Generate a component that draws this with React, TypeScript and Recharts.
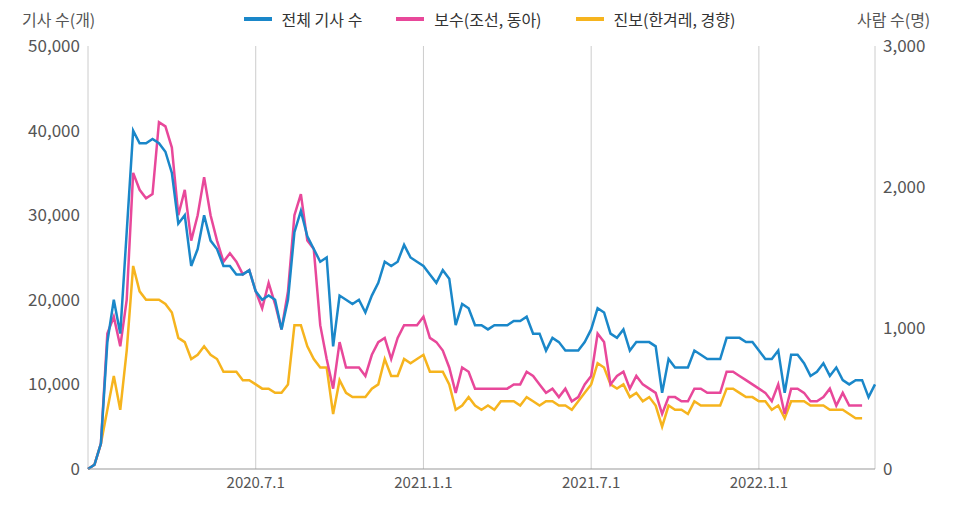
import React from 'react';
import { LineChart, Line, XAxis, YAxis, CartesianGrid } from 'recharts';

// weekly points, starting first week of Jan 2020
const totalArticles = [
  0, 500, 3000, 15000, 20000, 16000, 28000, 40000, 38500, 38500, 39000, 38500, 37500, 35000, 29000, 30000,
  24000, 26000, 30000, 27000, 26000, 24000, 24000, 23000, 23000, 23500, 21000, 20000, 20500, 20000, 16500, 20000,
  28000, 30500, 27500, 26000, 24500, 25000, 14500, 20500, 20000, 19500, 20000, 18500, 20500, 22000, 24500, 24000,
  24500, 26500, 25000, 24500, 24000, 23000, 22000, 23500, 22500, 17000, 19500, 19000, 17000, 17000, 16500, 17000,
  17000, 17000, 17500, 17500, 18000, 16000, 16000, 14000, 15500, 15000, 14000, 14000, 14000, 15000, 16500, 19000,
  18500, 16000, 15500, 16500, 14000, 15000, 15000, 15000, 14500, 9000, 13000, 12000, 12000, 12000, 14000, 13500,
  13000, 13000, 13000, 15500, 15500, 15500, 15000, 15000, 14000, 13000, 13000, 14000, 9000, 13500, 13500, 12500,
  11000, 11500, 12500, 11000, 12000, 10500, 10000, 10500, 10500, 8500, 10000,
];
const conservative = [
  0, 30, 180, 960, 1080, 870, 1200, 2100, 1980, 1920, 1950, 2460, 2430, 2280, 1800, 1980,
  1620, 1800, 2070, 1800, 1620, 1470, 1530, 1470, 1380, 1410, 1260, 1140, 1320, 1170, 990, 1260,
  1800, 1950, 1620, 1560, 1020, 780, 570, 900, 720, 720, 720, 660, 810, 900, 930, 780,
  930, 1020, 1020, 1020, 1080, 930, 900, 840, 720, 540, 720, 690, 570, 570, 570, 570,
  570, 570, 600, 600, 690, 660, 600, 540, 570, 510, 570, 480, 510, 600, 660, 960,
  900, 600, 660, 690, 570, 660, 600, 570, 540, 390, 510, 510, 480, 480, 570, 570,
  540, 540, 540, 690, 690, 660, 630, 600, 570, 540, 480, 600, 390, 570, 570, 540,
  480, 480, 510, 570, 450, 540, 450, 450, 450,
];
const progressive = [
  0, 30, 180, 420, 660, 420, 840, 1440, 1260, 1200, 1200, 1200, 1170, 1110, 930, 900,
  780, 810, 870, 810, 780, 690, 690, 690, 630, 630, 600, 570, 570, 540, 540, 600,
  1020, 1020, 870, 780, 720, 720, 390, 630, 540, 510, 510, 510, 570, 600, 780, 660,
  660, 780, 750, 780, 810, 690, 690, 690, 600, 420, 450, 510, 450, 420, 450, 420,
  480, 480, 480, 450, 510, 480, 450, 480, 480, 450, 450, 420, 480, 540, 600, 750,
  720, 600, 570, 600, 510, 540, 480, 510, 450, 300, 450, 420, 420, 390, 480, 450,
  450, 450, 450, 570, 570, 540, 510, 510, 480, 480, 420, 450, 360, 480, 480, 480,
  450, 450, 450, 420, 420, 420, 390, 360, 360,
];
const tickWeeks = [26, 52, 78, 104];
const tickLabels = ['2020.7.1', '2021.1.1', '2021.7.1', '2022.1.1'];
const leftTicks = [0, 10000, 20000, 30000, 40000, 50000];
const rightTicks = [0, 1000, 2000, 3000];

const data = totalArticles.map((v, i) => ({
  week: i,
  total: v,
  cons: conservative[i],
  prog: progressive[i],
}));

const FONT = '"Noto Sans CJK KR", "Noto Sans", sans-serif';
const GRAY = '#555';
const BLUE = '#1a87c9';
const PINK = '#e8489a';
const YELLOW = '#f6b41e';

const legendItems = [
  { name: '전체 기사 수', color: BLUE },
  { name: '보수(조선, 동아)', color: PINK },
  { name: '진보(한겨레, 경향)', color: YELLOW },
];

const fmt = (v: number) => v.toLocaleString('en-US');

export default function App() {
  return (
    <div style={{ position: 'fixed', left: 0, top: 0, width: 959, height: 507, background: '#fff', fontFamily: FONT }}>
      <div style={{ position: 'absolute', left: 22, top: 7, fontSize: 16, color: GRAY }}>기사 수(개)</div>
      <div style={{ position: 'absolute', left: 857, top: 7, fontSize: 16, color: GRAY }}>사람 수(명)</div>
      <div style={{ position: 'absolute', left: 0, top: 7, width: 959, display: 'flex', justifyContent: 'center', gap: 34, paddingLeft: 20, boxSizing: 'border-box' }}>
        {legendItems.map((it) => (
          <div key={it.name} style={{ display: 'flex', alignItems: 'center', fontSize: 16, color: '#333' }}>
            <span style={{ display: 'inline-block', width: 28, height: 4, background: it.color, marginRight: 10 }} />
            {it.name}
          </div>
        ))}
      </div>
      <LineChart width={959} height={507} data={data} margin={{ top: 46, right: 0, bottom: 0, left: 0 }}>
        <CartesianGrid vertical horizontal={false} stroke="#ccc" />
        <XAxis
          dataKey="week"
          type="number"
          domain={[0, 122]}
          ticks={tickWeeks}
          tickFormatter={(v) => tickLabels[tickWeeks.indexOf(v)]}
          height={38}
          stroke="#999"
          tickLine={false}
          tick={{ fill: GRAY, fontSize: 15, fontFamily: FONT }}
        />
        <YAxis
          yAxisId="l"
          width={88}
          domain={[0, 50000]}
          ticks={leftTicks}
          tickFormatter={fmt}
          axisLine={false}
          tickLine={false}
          tick={{ fill: GRAY, fontSize: 17, fontFamily: FONT }}
        />
        <YAxis
          yAxisId="r"
          orientation="right"
          width={84}
          domain={[0, 3000]}
          ticks={rightTicks}
          tickFormatter={fmt}
          axisLine={false}
          tickLine={false}
          tick={{ fill: GRAY, fontSize: 17, fontFamily: FONT, textAnchor: 'start' }}
        />
        <Line yAxisId="r" dataKey="prog" stroke={YELLOW} strokeWidth={2.5} dot={false} isAnimationActive={false} />
        <Line yAxisId="r" dataKey="cons" stroke={PINK} strokeWidth={2.5} dot={false} isAnimationActive={false} />
        <Line yAxisId="l" dataKey="total" stroke={BLUE} strokeWidth={2.5} dot={false} isAnimationActive={false} />
      </LineChart>
    </div>
  );
}
